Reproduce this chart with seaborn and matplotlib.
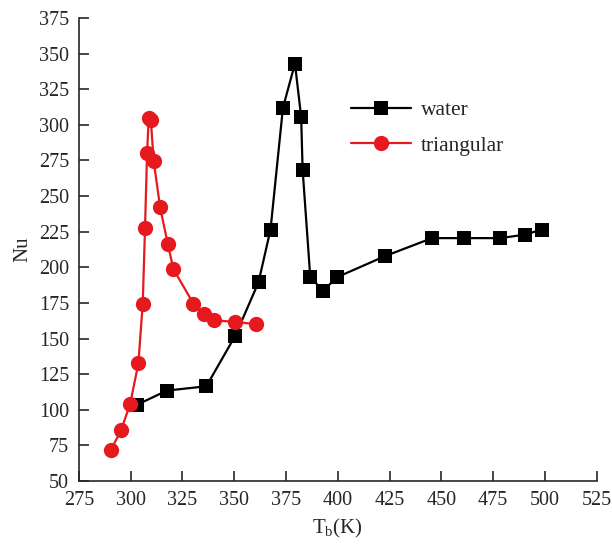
import matplotlib
matplotlib.use("Agg")
import matplotlib.pyplot as plt
import seaborn as sns
import pandas as pd

water_T = [303, 317.5, 336.5, 350.5, 361.7, 367.5, 373.5, 379.3, 382.3, 383, 386.7, 393, 399.5, 423, 445.5, 461, 478.5, 490.5, 498.5]
water_Nu = [103.5, 113.5, 116.5, 152, 189.5, 226.5, 312, 343, 305.5, 268.5, 193, 183.5, 193, 208, 220.5, 220.5, 220.5, 223, 226.5]

tri_T = [290.5, 295.3, 299.7, 303.7, 305.8, 306.9, 307.9, 308.7, 309.7, 311.1, 314.2, 317.9, 320.6, 330.3, 335.4, 340.3, 350.4, 360.6]
tri_Nu = [72, 85.5, 104, 132.5, 174.5, 227.5, 280.5, 305, 303.5, 274.5, 242, 216.5, 198.7, 174.5, 167.5, 162.7, 161.8, 160]

series_names = ["water", "triangular"]
x_ticks = [275, 300, 325, 350, 375, 400, 425, 450, 475, 500, 525]
y_ticks = [50, 75, 100, 125, 150, 175, 200, 225, 250, 275, 300, 325, 350, 375]

df = pd.concat([
    pd.DataFrame({"T": water_T, "Nu": water_Nu, "series": series_names[0]}),
    pd.DataFrame({"T": tri_T, "Nu": tri_Nu, "series": series_names[1]}),
], ignore_index=True)

sns.set_style("ticks")
plt.rcParams["font.family"] = ["Liberation Serif", "DejaVu Serif"]
plt.rcParams["mathtext.fontset"] = "custom"
plt.rcParams["mathtext.rm"] = "Liberation Serif"

fig = plt.figure(figsize=(6.12, 5.46), dpi=100)
ax = fig.add_axes([0.129, 0.119, 0.846, 0.848])

palette = {"water": "#000000", "triangular": "#e5191e"}
markers = {"water": "s", "triangular": "o"}
sns.lineplot(data=df, x="T", y="Nu", hue="series", style="series",
             palette=palette, markers=markers, dashes=False, sort=False,
             linewidth=1.6, ax=ax, legend=True, estimator=None)
for line in ax.lines:
    if line.get_marker() == "s":
        line.set_markersize(9.5)
    elif line.get_marker() == "o":
        line.set_markersize(11)
    line.set_markeredgewidth(0)

ax.set_xlim(275, 525)
ax.set_ylim(50, 375)
ax.set_xticks(x_ticks)
ax.set_yticks(y_ticks)
ax.tick_params(direction="in", length=7, width=1.2, labelsize=14.5, pad=7)
for s in ["top", "right"]:
    ax.spines[s].set_visible(False)
for s in ["left", "bottom"]:
    ax.spines[s].set_linewidth(1.2)

ax.set_xlabel(r"T$_\mathregular{b}$(K)", fontsize=15, labelpad=5)
ax.set_ylabel("Nu", fontsize=15, labelpad=5)

handles, labels = ax.get_legend_handles_labels()
for h in handles:
    h.set_markeredgewidth(0)
    if h.get_marker() == "s":
        h.set_markersize(9.5)
    else:
        h.set_markersize(11)
ax.legend(handles, labels, loc="upper left", bbox_to_anchor=(0.488, 0.864),
          frameon=False, fontsize=15.5, handlelength=2.8, handletextpad=0.45,
          labelspacing=0.7)

fig.savefig("out.png", dpi=100)
